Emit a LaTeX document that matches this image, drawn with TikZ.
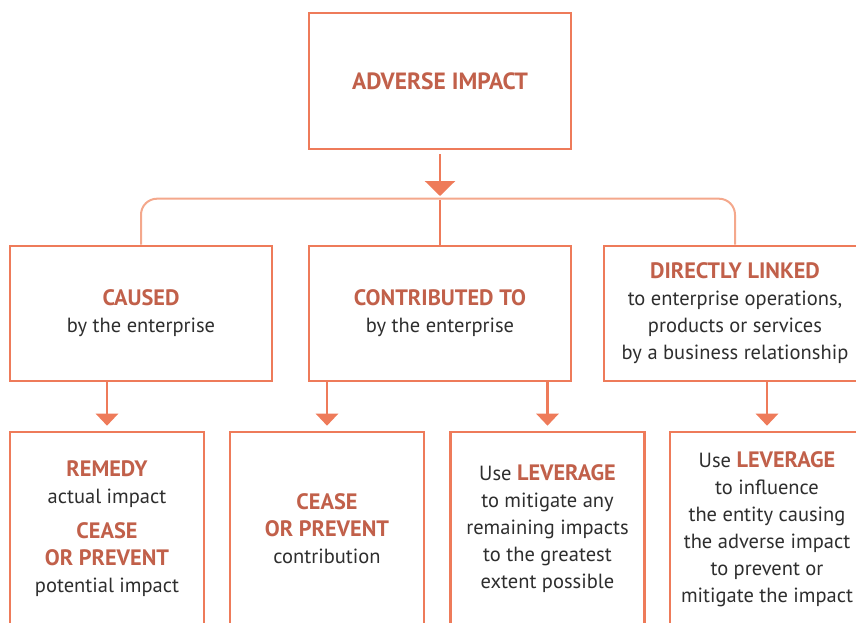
\documentclass[tikz,border=0pt]{standalone}
\usepackage{fontspec}
\setmainfont{PT Sans}
\usetikzlibrary{arrows.meta}
\definecolor{boxline}{HTML}{EE7B5A}
\definecolor{treeline}{HTML}{F4A88C}
\definecolor{headtext}{HTML}{C1604A}
\definecolor{bodytext}{HTML}{2E2E2E}
\newcommand{\hd}[1]{{\fontsize{22.3}{27}\selectfont\bfseries\color{headtext}#1}}
\tikzset{
  box/.style={draw=boxline, line width=2.6pt, align=center, text=bodytext, inner sep=0pt,
    font=\fontsize{20.5}{27}\selectfont},
  upper/.style={box, minimum width=262pt, minimum height=135pt},
  lower/.style={box, minimum width=194pt, minimum height=194pt},
  arr/.style={boxline, line width=2.6pt, -{Triangle[width=22pt,length=12pt]}, shorten >=5pt},
}
\begin{document}
\begin{tikzpicture}[x=1pt,y=-1pt]
\useasboundingbox (0,0) rectangle (856,623);

\node[upper, minimum height=136pt, font=\fontsize{23.5}{27}\selectfont] (impact) at (440,81)
  {\bfseries\color{headtext}ADVERSE IMPACT};

\node[upper] (caused) at (141,313.5) {\hd{CAUSED}\\by the enterprise};
\node[upper] (contrib) at (440,313.5) {\hd{CONTRIBUTED TO}\\by the enterprise};
\node[upper] (linked) at (735,313.5) {\hd{DIRECTLY LINKED}\\to enterprise operations,\\products or services\\by a business relationship};

\node[lower] (remedy) at (107,529) {\hd{REMEDY}\\actual impact\\[8pt]\hd{CEASE}\\\hd{OR PREVENT}\\potential impact};
\node[lower] (cease) at (327,529) {\hd{CEASE}\\\hd{OR PREVENT}\\contribution};
\node[lower] (leverage) at (547.5,529) {Use \hd{LEVERAGE}\\to mitigate any\\remaining impacts\\to the greatest\\extent possible};
\node[lower] (influence) at (767,529) {Use \hd{LEVERAGE}\\to influence\\the entity causing\\the adverse impact\\to prevent or\\mitigate the impact};

\coordinate (split) at (440,200);
\draw[treeline, line width=2pt, rounded corners=16pt] (caused.north) -- ++(0,-46) -| (linked.north);
\draw[boxline, line width=2.6pt] (split) -- (contrib.north);
\draw[arr, -{Triangle[width=30pt,length=15pt]}, shorten <=4pt, shorten >=4pt] (impact.south) -- (split);

\draw[arr] (remedy.north |- caused.south) -- (remedy.north);
\draw[arr] (cease.north |- contrib.south) -- (cease.north);
\draw[arr] (leverage.north |- contrib.south) -- (leverage.north);
\draw[arr] (influence.north |- linked.south) -- (influence.north);
\end{tikzpicture}
\end{document}
